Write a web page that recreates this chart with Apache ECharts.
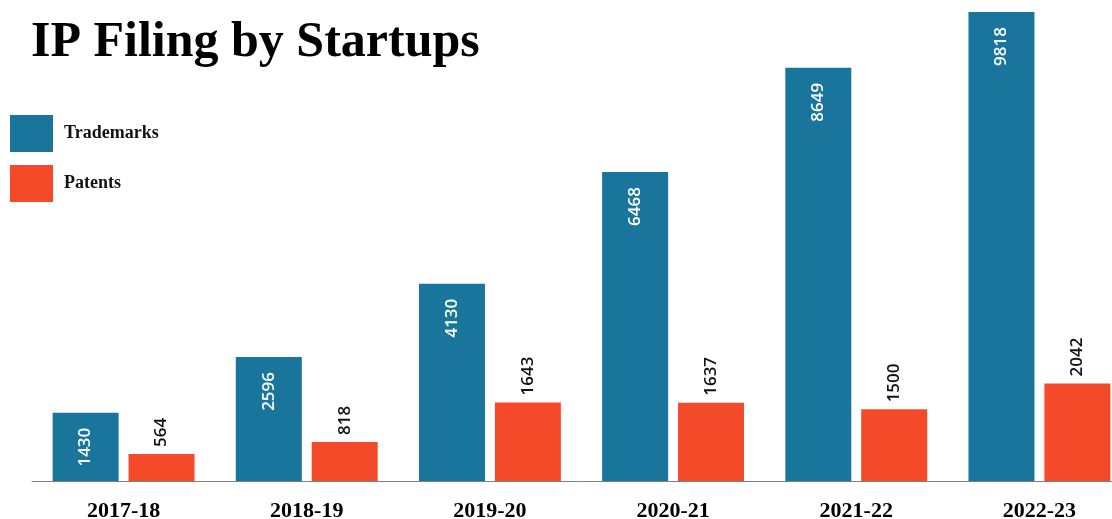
<!DOCTYPE html>
<html>
<head>
<meta charset="utf-8">
<style>
  html, body { margin: 0; padding: 0; background: #ffffff; overflow: hidden; }
  #frame { position: relative; width: 1112px; height: 519px; overflow: hidden; }
  /* the last group runs slightly past the right edge of the frame */
  #chart { position: absolute; left: 0; top: 0; width: 1131px; height: 519px; }
</style>
<script src="https://cdn.jsdelivr.net/npm/echarts@6/dist/echarts.min.js"></script>
</head>
<body>
<div id="frame"><div id="chart"></div></div>
<script>
// Fiscal years on the category axis
const years = ['2017-18', '2018-19', '2019-20', '2020-21', '2021-22', '2022-23'];
// IP filings per year
const trademarks = [1430, 2596, 4130, 6468, 8649, 9818];
const patents = [564, 818, 1643, 1637, 1500, 2042];

const serif = '"Liberation Serif", "Times New Roman", serif';
const sans = '"Open Sans", "Noto Sans", sans-serif';

const chart = echarts.init(document.getElementById('chart'), null, { renderer: 'canvas' });

chart.setOption({
  animation: false,
  backgroundColor: '#ffffff',
  title: {
    text: 'IP Filing by Startups',
    left: 31,
    top: 18,
    padding: 0,
    textStyle: { fontFamily: serif, fontSize: 50, fontWeight: 'bold', color: '#000000' }
  },
  legend: {
    orient: 'vertical',
    left: 10,
    top: 115,
    padding: 0,
    itemWidth: 43,
    itemHeight: 37,
    itemGap: 13,
    icon: 'rect',
    textStyle: { fontFamily: serif, fontSize: 18, fontWeight: 'bold', color: '#111111', padding: [0, 0, 0, 6] },
    data: ['Trademarks', 'Patents']
  },
  grid: { left: 32, right: 0, top: 12, bottom: 38, containLabel: false, outerBoundsMode: 'none' },
  xAxis: {
    type: 'category',
    data: years,
    axisLine: { show: true, lineStyle: { color: '#808080', width: 1 } },
    axisTick: { show: false },
    axisLabel: { fontFamily: serif, fontSize: 22, fontWeight: 'bold', color: '#000000', margin: 19 }
  },
  yAxis: {
    type: 'value',
    min: 0,
    max: 9818,
    show: false,
    splitLine: { show: false }
  },
  series: [
    {
      name: 'Trademarks',
      type: 'bar',
      data: trademarks,
      barWidth: 66,
      barGap: '15%',
      itemStyle: { color: '#19759b' },
      label: {
        show: true,
        position: 'insideTop',
        rotate: 90,
        align: 'right',
        verticalAlign: 'middle',
        distance: 15,
        fontFamily: sans,
        fontSize: 17,
        fontWeight: 600,
        color: '#ffffff'
      }
    },
    {
      name: 'Patents',
      type: 'bar',
      data: patents,
      barWidth: 66,
      itemStyle: { color: '#f54a2a' },
      label: {
        show: true,
        position: 'top',
        rotate: 90,
        align: 'left',
        verticalAlign: 'middle',
        distance: 7,
        fontFamily: sans,
        fontSize: 17,
        fontWeight: 600,
        color: '#111111'
      }
    }
  ]
});
</script>
</body>
</html>
